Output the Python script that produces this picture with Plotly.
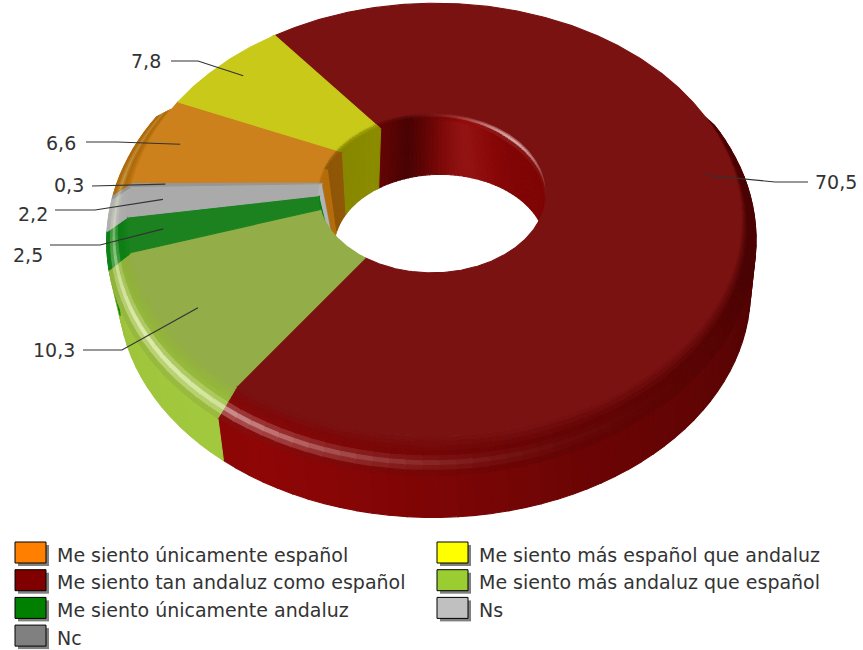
import numpy as np
import plotly.graph_objects as go

# ---- data (clockwise from the top-left spoke) ----
categories = ["Me siento tan andaluz como español", "Me siento más andaluz que español",
              "Me siento únicamente andaluz", "Ns", "Nc",
              "Me siento únicamente español", "Me siento más español que andaluz"]
values = [70.5, 10.3, 2.5, 2.2, 0.3, 6.6, 7.8]
legend_colors = ["#800000", "#9ACD32", "#008000", "#C0C0C0", "#808080", "#FF8000", "#FFFF00"]
top_colors = [(122, 18, 18), (147, 173, 72), (27, 130, 31), (170, 170, 170), (150, 150, 150), (204, 129, 29), (201, 201, 26)]
wall_colors = [(132, 6, 6), (152, 188, 58), (10, 135, 20), (190, 190, 190), (160, 160, 160), (190, 115, 10), (176, 176, 0)]
legend_order = [[5, 0, 2, 4], [6, 1, 3]]
# label centre x, centre y, leader start x, elbow x, elbow y (one row per slice)
label_rows = [(836, 182, 808, 775, 182), (54, 350, 83, 122, 350), (28, 255, 50, 100, 245),
              (33, 214, 55, 95, 210), (69, 185, 92, 92, 186), (61, 143, 86, 117, 142), (146, 61, 171, 198, 61)]
start_angle = 321.0

# ---- projection ----
FLAT = dict(cx=441, cy=182, A=302, B=210, k=.175, j=.02)
RIM = dict(cx=438, cy=194, A=318, B=225, k=.20, j=.02)
LOW = dict(cx=441, cy=243, A=308, B=214, k=.22, j=.02)


def proj(m, r, th):
    rad = np.radians(th)
    X, Y = r * np.sin(rad), -r * np.cos(rad)
    w = 1 - m["k"] * Y + m["j"] * X
    return m["cx"] + m["A"] * X / w, m["cy"] + m["B"] * Y / w


def r_hole(th):
    rad = np.radians(th)
    return .375 - .027 * np.sin(rad) - .026 * np.cos(rad)


def bevel_w(th):
    return .035 * np.clip(.35 + np.cos(np.radians(th)) * 1.0, 0, 1)


def mix(a, b, t):
    return tuple(x + (y - x) * t for x, y in zip(a, b))


def css(c):
    return "rgb(%d,%d,%d)" % tuple(int(np.clip(v, 0, 255)) for v in c)


def outer_f(th):
    return np.interp(th, [0, 90, 110, 130, 160, 180, 205, 240, 260, 300, 360],
                     [.8, .62, .62, .72, .83, .95, 1.08, 1.05, 1.0, 1.0, 1.0])


def inner_f(th):
    t = (th - 280) % 360
    return np.interp(t, [0, 40, 60, 80, 95, 130, 200],
                     [.75, .8, .55, .9, 1.1, .98, .95])


def gauss(x, m, s):
    return np.exp(-((x - m) / s) ** 2)


def out_hi(th):
    return gauss(th, 232, 40) * .85 + .2 * gauss(th, 310, 30)


def in_hi(th):
    return gauss(((th + 180) % 360) - 180, 50, 35)


fig = go.Figure()


def poly(xs, ys, color):
    fig.add_trace(go.Scatter(x=xs, y=ys, mode="lines", fill="toself", fillcolor=color,
                             line=dict(color=color, width=1.1), hoverinfo="skip", showlegend=False))


edges = start_angle + np.concatenate([[0], np.cumsum(values)]) * 3.6
segs = []
for i in range(len(values)):
    a0, a1 = edges[i], edges[i + 1]
    n = max(1, int(np.ceil((a1 - a0) / 2.5)))
    segs.append(np.linspace(a0, a1, n + 1))

# hole wall, then outer wall
for i, s in enumerate(segs):
    for a, b in zip(s[:-1], s[1:]):
        m = ((a + b) / 2) % 360
        if -np.cos(np.radians(m)) < .5:
            ra, rb = r_hole(a) - bevel_w(a), r_hole(b) - bevel_w(b)
            x1, y1 = proj(FLAT, ra, a)
            x2, y2 = proj(FLAT, rb, b)
            x3, y3 = proj(LOW, .345, b)
            x4, y4 = proj(LOW, .345, a)
            c = tuple(v * inner_f(m) for v in wall_colors[i])
            if i == 0:
                c = mix(c, (150, 30, 30), .5 * gauss(((m + 180) % 360) - 180, 15, 14))
            poly([x1, x2, x3, x4, x1], [y1, y2, y3, y4, y1], css(c))
for i, s in enumerate(segs):
    for a, b in zip(s[:-1], s[1:]):
        m = ((a + b) / 2) % 360
        if -np.cos(np.radians(m)) > -.35:
            x1, y1 = proj(RIM, 1, a)
            x2, y2 = proj(RIM, 1, b)
            x3, y3 = proj(LOW, 1, b)
            x4, y4 = proj(LOW, 1, a)
            c = tuple(v * outer_f(m) for v in wall_colors[i])
            poly([x1, x2, x3, x4, x1], [y1, y2, y3, y4, y1], css(c))

# bevel bands
bands = np.linspace(0, 1, 9)
for i, s in enumerate(segs):
    for a, b in zip(s[:-1], s[1:]):
        m = ((a + b) / 2) % 360
        if -np.cos(np.radians(m)) < -.35:
            continue
        for t0, t1 in zip(bands[:-1], bands[1:]):
            tm = (t0 + t1) / 2
            ax0, ay0 = proj(FLAT, 1, a)
            ax1, ay1 = proj(RIM, 1, a)
            bx0, by0 = proj(FLAT, 1, b)
            bx1, by1 = proj(RIM, 1, b)
            px = [ax0 + (ax1 - ax0) * t0, bx0 + (bx1 - bx0) * t0, bx0 + (bx1 - bx0) * t1, ax0 + (ax1 - ax0) * t1]
            py = [ay0 + (ay1 - ay0) * t0, by0 + (by1 - by0) * t0, by0 + (by1 - by0) * t1, ay0 + (ay1 - ay0) * t1]
            wall = tuple(v * outer_f(m) * .92 for v in wall_colors[i])
            c = mix(top_colors[i], wall, min(1, tm * 2.4))
            c = mix(c, (255, 235, 235) if i == 0 else (248, 255, 215), .85 * out_hi(m) * gauss(tm, .7, .14))
            poly(px + px[:1], py + py[:1], css(c))

# inner bevel
for i, s in enumerate(segs):
    for a, b in zip(s[:-1], s[1:]):
        m = ((a + b) / 2) % 360
        if bevel_w(m) <= 0:
            continue
        for t0, t1 in ((0, .33), (.33, .66), (.66, 1)):
            tm = (t0 + t1) / 2
            p = [proj(FLAT, r_hole(a) - bevel_w(a) * t0, a), proj(FLAT, r_hole(b) - bevel_w(b) * t0, b),
                 proj(FLAT, r_hole(b) - bevel_w(b) * t1, b), proj(FLAT, r_hole(a) - bevel_w(a) * t1, a)]
            wall = tuple(v * inner_f(m) for v in wall_colors[i])
            c = mix(top_colors[i], wall, min(1, tm * 1.6))
            c = mix(c, (250, 225, 225), .8 * in_hi(m) * gauss(tm, .4, .28))
            poly([q[0] for q in p + p[:1]], [q[1] for q in p + p[:1]], css(c))

# flat top of every slice
for i, s in enumerate(segs):
    fine = np.linspace(s[0], s[-1], max(4, int((s[-1] - s[0]) * 1.5)))
    ox, oy = proj(FLAT, 1, fine)
    ix, iy = proj(FLAT, r_hole(fine), fine)
    xs = np.concatenate([ox, ix[::-1], ox[:1]])
    ys = np.concatenate([oy, iy[::-1], oy[:1]])
    poly(xs, ys, css(top_colors[i]))

# leader lines and value labels
annotations = []
for i, v in enumerate(values):
    lx, ly, sx, ex, ey = label_rows[i]
    mid = (edges[i] + edges[i + 1]) / 2
    px, py = proj(FLAT, .895, mid)
    fig.add_trace(go.Scatter(x=[sx, ex, px], y=[ey, ey, py], mode="lines",
                             line=dict(color="#333333", width=1.2), hoverinfo="skip", showlegend=False))
    annotations.append(dict(x=lx, y=ly, xref="x", yref="y", text=f"{v:.1f}".replace(".", ","),
                            showarrow=False, font=dict(family="DejaVu Sans", size=19, color="#333333")))

# legend
shapes = []
for col, idxs in enumerate(legend_order):
    x0 = 15 if col == 0 else 437
    for r, idx in enumerate(idxs):
        y0 = 542 + r * 27.7
        shapes.append(dict(type="rect", x0=x0 + 3, x1=x0 + 34, y0=y0 + 3, y1=y0 + 24, xref="x", yref="y",
                           fillcolor="#808080", line=dict(width=0)))
        shapes.append(dict(type="rect", x0=x0, x1=x0 + 31, y0=y0, y1=y0 + 21, xref="x", yref="y",
                           fillcolor=legend_colors[idx], line=dict(color="#000000", width=1)))
        annotations.append(dict(x=x0 + 40, y=y0 + 12.5, xref="x", yref="y", text=categories[idx], xanchor="left",
                                showarrow=False, font=dict(family="DejaVu Sans", size=19, color="#333333")))

fig.update_layout(width=863, height=650, margin=dict(l=0, r=0, t=0, b=0), autosize=False,
                  paper_bgcolor="white", plot_bgcolor="white", showlegend=False,
                  xaxis=dict(range=[0, 863], visible=False, fixedrange=True),
                  yaxis=dict(range=[650, 0], visible=False, fixedrange=True),
                  shapes=shapes, annotations=annotations)
fig.write_html("out.html", config={"displayModeBar": False},
               post_script="document.body.style.margin='0';document.documentElement.style.overflow='hidden';")
